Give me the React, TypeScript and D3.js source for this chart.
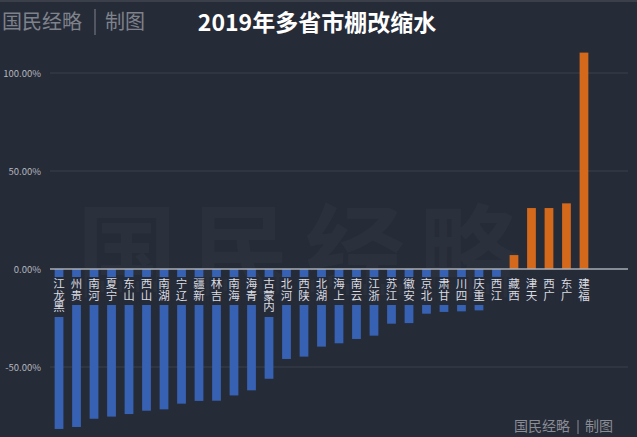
import React from "react";
import * as d3 from "d3";

const provinces = ["黑龙江","贵州","河南","宁夏","山东","山西","湖南","辽宁","新疆","吉林","海南","青海","内蒙古","河北","陕西","湖北","上海","云南","浙江","江苏","安徽","北京","甘肃","四川","重庆","江西","西藏","天津","广西","广东","福建"];
const changes = [-81.6,-80.6,-76.4,-75.3,-74.0,-72.3,-71.6,-68.7,-67.3,-67.2,-64.5,-61.9,-56.0,-45.9,-44.7,-39.6,-37.9,-35.7,-34.0,-27.9,-27.6,-22.8,-21.9,-21.6,-21.1,-4.0,7.1,31.1,31.1,33.5,110.4];
const yTicks = [-50, 0, 50, 100];
const title = "2019年多省市棚改缩水";

const W = 637, H = 437;
const BG = "#262b38";
const FONT = "'Noto Sans CJK SC', 'Noto Sans', sans-serif";

export default function App() {
  const x = d3.scaleBand<string>().domain(provinces).range([45.9, 597.1]).paddingInner(0.5).paddingOuter(0.5);
  const y = d3.scaleLinear().domain([-100, 100]).range([465, 73]);
  const gridX0 = 50, gridX1 = 628;
  const labelTop = 277;
  const charH = 12;
  return (
    <svg width={W} height={H} style={{ position: "absolute", left: 0, top: 0, background: BG }} fontFamily={FONT}>
      <rect x={0} y={0} width={W} height={H} fill={BG} />
      <rect x={0} y={0} width={W} height={2} fill="#3a3f4a" />
      {/* faint big watermark */}
      <text x={305} y={288} textAnchor="middle" fontSize={100} fill="#ffffff" fillOpacity={0.028} letterSpacing={14} fontWeight={700}>国民经略</text>
      {/* gridlines */}
      {yTicks.filter(t => t !== 0).map(t => (
        <line key={t} x1={gridX0} x2={gridX1} y1={y(t)} y2={y(t)} stroke="#3b404c" strokeWidth={1} />
      ))}
      {yTicks.map(t => (
        <text key={"l" + t} x={41} y={y(t) + 3.5} textAnchor="end" fontSize={9.5} fill="#b4b7be">{t.toFixed(2) + "%"}</text>
      ))}
      {/* bars */}
      {provinces.map((p, i) => {
        const v = changes[i];
        const y0 = y(0), y1 = y(v);
        return (
          <rect key={p} x={x(p)} width={x.bandwidth()} y={Math.min(y0, y1)} height={Math.abs(y1 - y0)} fill={v < 0 ? "#3762b3" : "#d4691c"} />
        );
      })}
      {/* labels */}
      {provinces.map((p) => {
        const cx = (x(p) as number) + x.bandwidth() / 2;
        const chars = Array.from(p).reverse();
        return (
          <g key={"lab" + p}>
            <rect x={cx - 7} y={labelTop} width={14} height={chars.length * charH + 4} fill={BG} />
            <text x={cx} y={labelTop + 1} fontSize={11.5} fill="#d9dbe0"
              style={{ writingMode: "vertical-rl", textOrientation: "upright" } as any}>{chars.join("")}</text>
          </g>
        );
      })}
      {/* zero axis */}
      <line x1={gridX0} x2={gridX1} y1={y(0)} y2={y(0)} stroke="#a9acb3" strokeWidth={1.5} />
      {/* title */}
      <text x={317} y={31} textAnchor="middle" fontSize={23} fontWeight={700} fill="#ffffff">{title}</text>
      {/* top-left watermark */}
      <text x={2} y={29} fontSize={20} fill="#7e828b" fontFamily="'Noto Sans CJK SC', serif">国民经略</text>
      <line x1={95} x2={95} y1={9} y2={35} stroke="#7e828b" strokeWidth={1} />
      <text x={105} y={29} fontSize={20} fill="#7e828b" fontFamily="'Noto Sans CJK SC', serif">制图</text>
      {/* bottom-right watermark */}
      <text x={514} y={431} fontSize={14} fill="#8a8d95">国民经略</text>
      <line x1={578} x2={578} y1={420} y2={434} stroke="#8a8d95" strokeWidth={1} />
      <text x={585} y={431} fontSize={14} fill="#8a8d95">制图</text>
    </svg>
  );
}
